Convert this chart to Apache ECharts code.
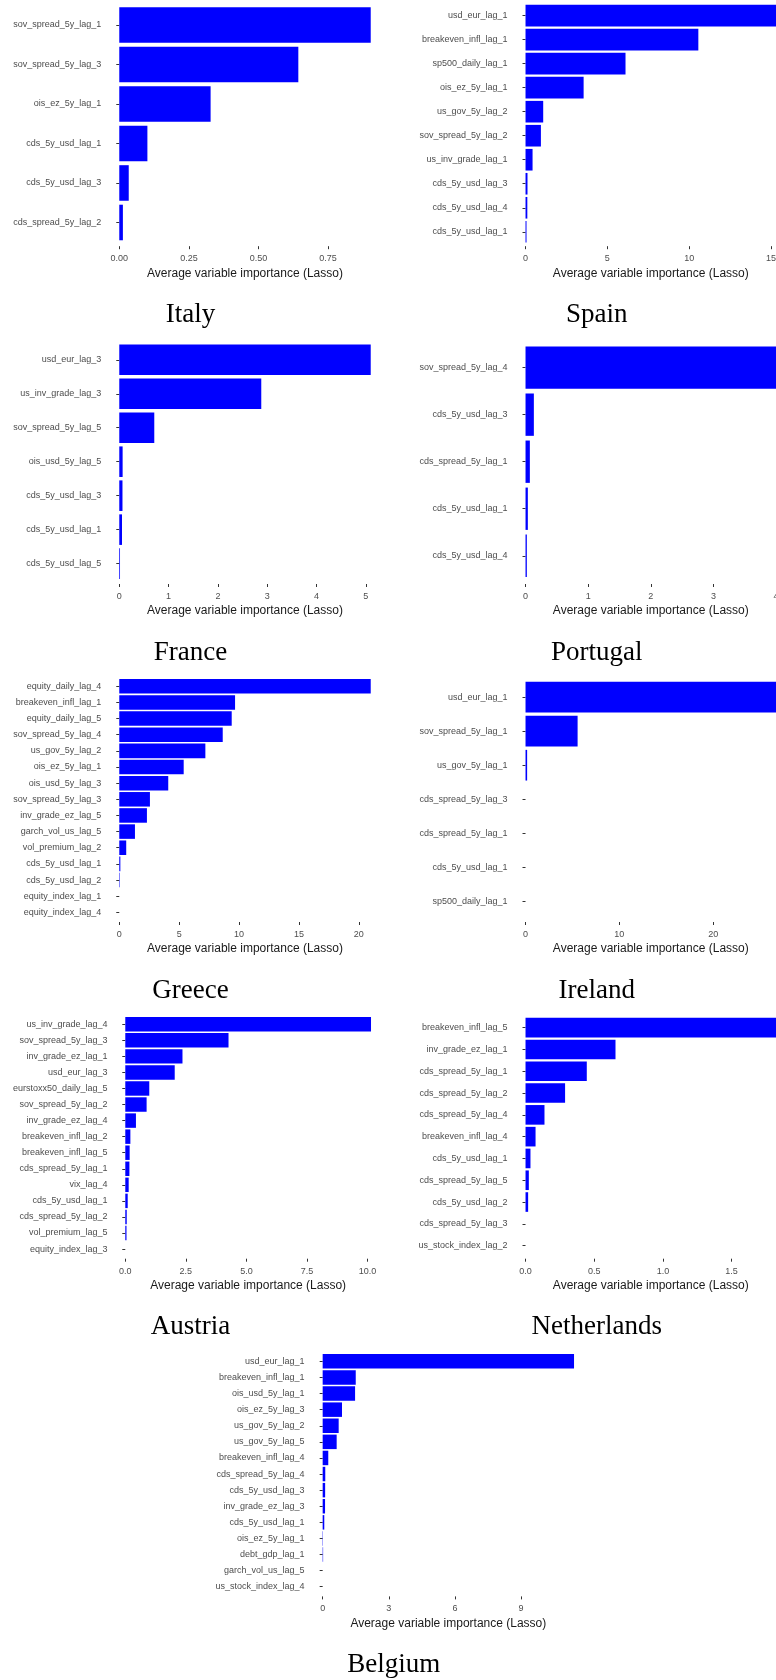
<!DOCTYPE html>
<html>
<head>
<meta charset="utf-8">
<title>Average variable importance (Lasso)</title>
<script src="https://cdn.jsdelivr.net/npm/echarts@6/dist/echarts.min.js"></script>
<style>
  html, body { margin: 0; padding: 0; background: #ffffff; }
  #chart { width: 776px; height: 1680px; }
</style>
</head>
<body>
<div id="chart"></div>
<script>
// ---- Lasso variable importance per country ----
const italyLabels = ['sov_spread_5y_lag_1', 'sov_spread_5y_lag_3', 'ois_ez_5y_lag_1', 'cds_5y_usd_lag_1', 'cds_5y_usd_lag_3', 'cds_spread_5y_lag_2'];
const italyValues = [0.903, 0.643, 0.328, 0.101, 0.034, 0.013];
const italyTicks = ['0.00', '0.25', '0.50', '0.75'];

const spainLabels = ['usd_eur_lag_1', 'breakeven_infl_lag_1', 'sp500_daily_lag_1', 'ois_ez_5y_lag_1', 'us_gov_5y_lag_2', 'sov_spread_5y_lag_2', 'us_inv_grade_lag_1', 'cds_5y_usd_lag_3', 'cds_5y_usd_lag_4', 'cds_5y_usd_lag_1'];
const spainValues = [15.31, 10.56, 6.11, 3.55, 1.08, 0.94, 0.43, 0.12, 0.11, 0.06];
const spainTicks = ['0', '5', '10', '15'];

const franceLabels = ['usd_eur_lag_3', 'us_inv_grade_lag_3', 'sov_spread_5y_lag_5', 'ois_usd_5y_lag_5', 'cds_5y_usd_lag_3', 'cds_5y_usd_lag_1', 'cds_5y_usd_lag_5'];
const franceValues = [5.10, 2.88, 0.71, 0.068, 0.065, 0.055, 0.015];
const franceTicks = ['0', '1', '2', '3', '4', '5'];

const portugalLabels = ['sov_spread_5y_lag_4', 'cds_5y_usd_lag_3', 'cds_spread_5y_lag_1', 'cds_5y_usd_lag_1', 'cds_5y_usd_lag_4'];
const portugalValues = [4.00, 0.133, 0.069, 0.037, 0.021];
const portugalTicks = ['0', '1', '2', '3', '4'];

const greeceLabels = ['equity_daily_lag_4', 'breakeven_infl_lag_1', 'equity_daily_lag_5', 'sov_spread_5y_lag_4', 'us_gov_5y_lag_2', 'ois_ez_5y_lag_1', 'ois_usd_5y_lag_3', 'sov_spread_5y_lag_3', 'inv_grade_ez_lag_5', 'garch_vol_us_lag_5', 'vol_premium_lag_2', 'cds_5y_usd_lag_1', 'cds_5y_usd_lag_2', 'equity_index_lag_1', 'equity_index_lag_4'];
const greeceValues = [21.0, 9.67, 9.39, 8.64, 7.19, 5.38, 4.09, 2.56, 2.31, 1.31, 0.58, 0.09, 0.04, 0, 0];
const greeceTicks = ['0', '5', '10', '15', '20'];

const irelandLabels = ['usd_eur_lag_1', 'sov_spread_5y_lag_1', 'us_gov_5y_lag_1', 'cds_spread_5y_lag_3', 'cds_spread_5y_lag_1', 'cds_5y_usd_lag_1', 'sp500_daily_lag_1'];
const irelandValues = [26.7, 5.55, 0.17, 0, 0, 0, 0];
const irelandTicks = ['0', '10', '20'];

const austriaLabels = ['us_inv_grade_lag_4', 'sov_spread_5y_lag_3', 'inv_grade_ez_lag_1', 'usd_eur_lag_3', 'eurstoxx50_daily_lag_5', 'sov_spread_5y_lag_2', 'inv_grade_ez_lag_4', 'breakeven_infl_lag_2', 'breakeven_infl_lag_5', 'cds_spread_5y_lag_1', 'vix_lag_4', 'cds_5y_usd_lag_1', 'cds_spread_5y_lag_2', 'vol_premium_lag_5', 'equity_index_lag_3'];
const austriaValues = [10.14, 4.26, 2.36, 2.04, 0.99, 0.88, 0.44, 0.21, 0.18, 0.17, 0.14, 0.10, 0.06, 0.05, 0];
const austriaTicks = ['0.0', '2.5', '5.0', '7.5', '10.0'];

const netherlandsLabels = ['breakeven_infl_lag_5', 'inv_grade_ez_lag_1', 'cds_spread_5y_lag_1', 'cds_spread_5y_lag_2', 'cds_spread_5y_lag_4', 'breakeven_infl_lag_4', 'cds_5y_usd_lag_1', 'cds_spread_5y_lag_5', 'cds_5y_usd_lag_2', 'cds_spread_5y_lag_3', 'us_stock_index_lag_2'];
const netherlandsValues = [1.824, 0.655, 0.446, 0.288, 0.138, 0.073, 0.036, 0.024, 0.019, 0, 0];
const netherlandsTicks = ['0.0', '0.5', '1.0', '1.5'];

const belgiumLabels = ['usd_eur_lag_1', 'breakeven_infl_lag_1', 'ois_usd_5y_lag_1', 'ois_ez_5y_lag_3', 'us_gov_5y_lag_2', 'us_gov_5y_lag_5', 'breakeven_infl_lag_4', 'cds_spread_5y_lag_4', 'cds_5y_usd_lag_3', 'inv_grade_ez_lag_3', 'cds_5y_usd_lag_1', 'ois_ez_5y_lag_1', 'debt_gdp_lag_1', 'garch_vol_us_lag_5', 'us_stock_index_lag_4'];
const belgiumValues = [11.40, 1.50, 1.47, 0.876, 0.726, 0.635, 0.254, 0.118, 0.112, 0.108, 0.073, 0.015, 0.02, 0, 0];
const belgiumTicks = ['0', '3', '6', '9'];

const axisTitle = 'Average variable importance (Lasso)';

// ---- page layout: panel box [left, right, top, bottom] and caption centre ----
const LEFT_COL = { capX: 190.5 };
const RIGHT_COL = { capX: 596.8 };
const panels = [
  { caption: 'Italy',       labels: italyLabels,       values: italyValues,       ticks: italyTicks,       box: [106.7, 383.3, 1.2, 246.2],     capX: LEFT_COL.capX },
  { caption: 'Spain',       labels: spainLabels,       values: spainValues,       ticks: spainTicks,       box: [513.0, 788.6, 1.2, 246.2],     capX: RIGHT_COL.capX },
  { caption: 'France',      labels: franceLabels,      values: franceValues,      ticks: franceTicks,      box: [106.7, 383.3, 339.4, 584.0],   capX: LEFT_COL.capX },
  { caption: 'Portugal',    labels: portugalLabels,    values: portugalValues,    ticks: portugalTicks,    box: [513.0, 788.6, 339.4, 584.0],   capX: RIGHT_COL.capX },
  { caption: 'Greece',      labels: greeceLabels,      values: greeceValues,      ticks: greeceTicks,      box: [106.7, 383.3, 676.6, 922.0],   capX: LEFT_COL.capX },
  { caption: 'Ireland',     labels: irelandLabels,     values: irelandValues,     ticks: irelandTicks,     box: [513.0, 788.6, 676.6, 922.0],   capX: RIGHT_COL.capX },
  { caption: 'Austria',     labels: austriaLabels,     values: austriaValues,     ticks: austriaTicks,     box: [113.0, 383.3, 1014.6, 1258.7], capX: LEFT_COL.capX },
  { caption: 'Netherlands', labels: netherlandsLabels, values: netherlandsValues, ticks: netherlandsTicks, box: [513.0, 788.6, 1014.6, 1258.7], capX: RIGHT_COL.capX },
  { caption: 'Belgium',     labels: belgiumLabels,     values: belgiumValues,     ticks: belgiumTicks,     box: [310.1, 586.6, 1351.7, 1596.4], capX: 393.7 }
];

const SANS = "'Liberation Sans', Arial, sans-serif";
const SERIF = "'Liberation Serif', 'Times New Roman', serif";
const TICK_GREY = '#4d4d4d';
const BAR_BLUE = '#0000ff';

const grid = [], xAxis = [], yAxis = [], series = [], graphic = [];

panels.forEach((p, i) => {
  const [L, R, T, B] = p.box;
  const n = p.labels.length;
  // discrete axis padded by 0.6 of a band on each side
  const band = (B - T) / (n + 0.2);
  const maxVal = Math.max(...p.values);
  const tickVals = p.ticks.map(Number);

  // panels in the right column run past the page edge and are cut off there
  grid.push({
    left: L, top: T + 0.1 * band, width: R - L, height: n * band,
    containLabel: false, outerBoundsMode: 'none'
  });

  xAxis.push({
    type: 'value',
    gridIndex: i,
    min: -0.05 * maxVal,
    max: 1.05 * maxVal,
    offset: 0.1 * band,
    splitLine: { show: false },
    axisLine: { show: false },
    axisTick: { show: true, length: 3, lineStyle: { color: '#333333', width: 1 }, customValues: tickVals },
    axisLabel: {
      customValues: tickVals,
      margin: 8,
      fontSize: 9,
      lineHeight: 9,
      color: TICK_GREY,
      fontFamily: SANS,
      hideOverlap: false,
      formatter: v => {
        const k = tickVals.findIndex(t => Math.abs(t - v) < 1e-9);
        return k >= 0 ? p.ticks[k] : '';
      }
    },
    name: axisTitle,
    nameLocation: 'middle',
    nameGap: 21,
    nameTextStyle: { fontSize: 12, lineHeight: 12, color: '#1a1a1a', fontFamily: SANS }
  });

  yAxis.push({
    type: 'category',
    gridIndex: i,
    data: p.labels,
    inverse: true,
    axisLine: { show: false },
    splitLine: { show: false },
    axisTick: { show: true, alignWithLabel: true, length: 3, lineStyle: { color: '#333333', width: 1 } },
    axisLabel: { interval: 0, margin: 5.5, fontSize: 9, color: TICK_GREY, fontFamily: SANS }
  });

  series.push({
    type: 'bar',
    xAxisIndex: i,
    yAxisIndex: i,
    data: p.values,
    barCategoryGap: '10%',
    itemStyle: { color: BAR_BLUE },
    emphasis: { disabled: true },
    animation: false
  });

  graphic.push({
    type: 'text',
    x: p.capX,
    y: B + 74.5 - 6,
    style: {
      text: p.caption,
      font: '27px ' + SERIF,
      fill: '#000000',
      textAlign: 'center',
      textVerticalAlign: 'middle',
      verticalAlign: 'middle'
    }
  });
});

const chart = echarts.init(document.getElementById('chart'), null, { renderer: 'canvas' });
chart.setOption({
  animation: false,
  backgroundColor: '#ffffff',
  grid, xAxis, yAxis, series, graphic
});
</script>
</body>
</html>
